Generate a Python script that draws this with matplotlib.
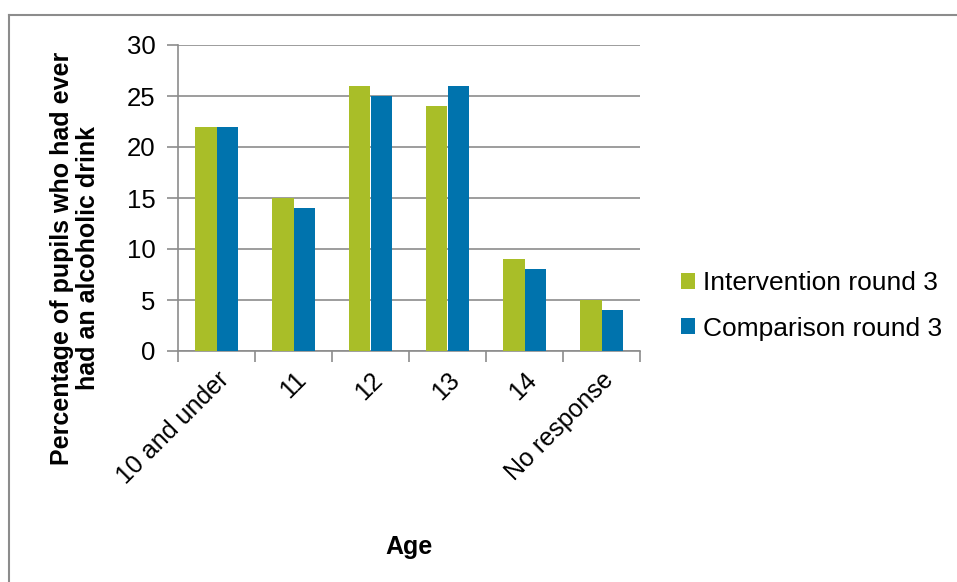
import matplotlib
matplotlib.use("Agg")
import matplotlib.pyplot as plt
from matplotlib.lines import Line2D
import numpy as np

plt.rcParams['font.family'] = ['Liberation Sans', 'DejaVu Sans']

ages = ["10 and under", "11", "12", "13", "14", "No response"]
intervention = [22, 15, 26, 24, 9, 5]
comparison = [22, 14, 25, 26, 8, 4]
series_names = ["Intervention round 3", "Comparison round 3"]

green = "#a9be28"
blue = "#0073ad"
grey = "#8c8c8c"

fig = plt.figure(figsize=(9.57, 5.82), dpi=100)
ax = fig.add_axes([178 / 957, 1 - 351 / 582, (640 - 178) / 957, (351 - 45) / 582])

x = np.arange(len(ages))
w = 0.285
b1 = ax.bar(x - w / 2, intervention, w, color=green, label=series_names[0], zorder=3)
b2 = ax.bar(x + w / 2, comparison, w, color=blue, label=series_names[1], zorder=3)

ax.set_xlim(-0.5, len(ages) - 0.5)
ax.set_ylim(0, 30)
ax.set_yticks(range(0, 31, 5))
ax.yaxis.grid(True, color=grey, linewidth=1.2, zorder=0)
ax.tick_params(axis='y', length=8, width=1.2, color=grey, labelsize=18.5, pad=8)

# category boundaries carry the tick marks, centres carry the labels
ax.set_xticks(np.arange(-0.5, len(ages), 1))
ax.set_xticklabels([])
ax.set_xticks(x, minor=True)
ax.set_xticklabels(ages, minor=True, rotation=45, ha='right', rotation_mode='anchor', fontsize=18)
ax.tick_params(axis='x', which='major', length=8, width=1.2, color=grey, direction='out')
ax.tick_params(axis='x', which='minor', length=0, pad=12)

for side in ['top', 'right']:
    ax.spines[side].set_visible(False)
for side in ['left', 'bottom']:
    ax.spines[side].set_color(grey)
    ax.spines[side].set_linewidth(1.2)

fig.text(75 / 957, 1 - 258 / 582,
         "Percentage of pupils who had ever\nhad an alcoholic drink",
         rotation=90, ha='center', va='center', fontsize=18, fontweight='bold',
         multialignment='center', linespacing=1.12)
fig.text(409 / 957, 1 - 547 / 582, "Age", ha='center', va='center',
         fontsize=18, fontweight='bold')

leg = fig.legend(handles=[b1, b2], labels=series_names, loc='center left',
                 bbox_to_anchor=(657 / 957, 1 - 306 / 582), frameon=False,
                 fontsize=19, handlelength=0.55, handleheight=0.55,
                 handletextpad=0.3, labelspacing=0.8)

# outer chart border (runs off the right and bottom edges)
fig.add_artist(Line2D([9 / 957, 1], [1 - 15 / 582, 1 - 15 / 582], color=grey, linewidth=1.5))
fig.add_artist(Line2D([9 / 957, 9 / 957], [0, 1 - 15 / 582], color=grey, linewidth=1.5))

fig.savefig("out.png", dpi=100)
